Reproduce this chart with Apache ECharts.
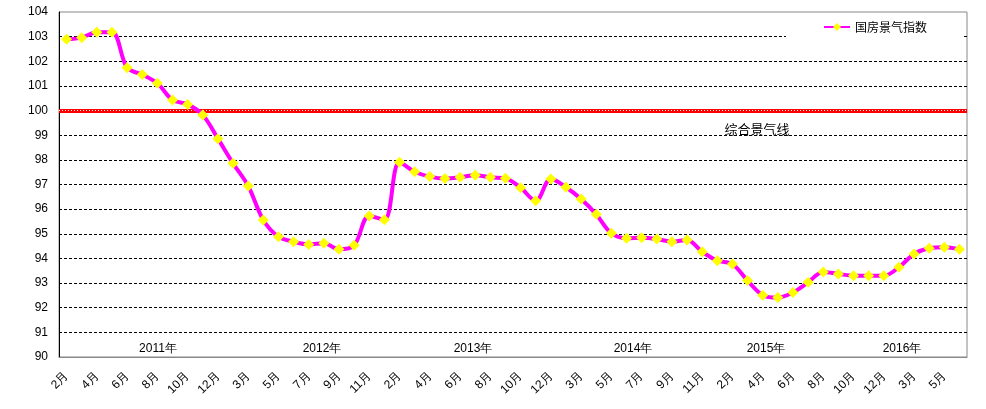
<!DOCTYPE html>
<html>
<head>
<meta charset="utf-8">
<script src="https://cdn.jsdelivr.net/npm/echarts@6/dist/echarts.min.js"></script>
<style>
html,body{margin:0;padding:0;background:#fff;}
#c{width:986px;height:409px;}
</style>
</head>
<body>
<div id="c"></div>
<script>
// Categories: monthly, Jan merged into Feb each year (2011-02 .. 2016-06)
var categories = [
  '2月','3月','4月','5月','6月','7月','8月','9月','10月','11月','12月',
  '2月','3月','4月','5月','6月','7月','8月','9月','10月','11月','12月',
  '2月','3月','4月','5月','6月','7月','8月','9月','10月','11月','12月',
  '2月','3月','4月','5月','6月','7月','8月','9月','10月','11月','12月',
  '2月','3月','4月','5月','6月','7月','8月','9月','10月','11月','12月',
  '2月','3月','4月','5月','6月'
];
var indexValues = [
  102.89,102.96,103.18,103.18,101.74,101.46,101.11,100.43,100.25,99.82,98.86,
  97.86,96.94,95.56,94.88,94.68,94.57,94.62,94.37,94.53,95.72,95.57,
  97.90,97.52,97.32,97.24,97.29,97.38,97.29,97.25,96.87,96.34,97.22,
  96.89,96.41,95.79,95.02,94.82,94.84,94.79,94.68,94.75,94.27,93.91,
  93.77,93.10,92.51,92.41,92.62,93.03,93.45,93.37,93.30,93.30,93.30,
  93.64,94.18,94.41,94.45,94.37
];
var seriesName = '国房景气指数';
var baseLineValue = 100;
var baseLineLabel = '综合景气线';
var yearLabels = ['2011年','2012年','2013年','2014年','2015年','2016年'];
var yMin = 90, yMax = 104, yInterval = 1;

var yearX = [158, 322, 473, 633, 766, 902];
var graphics = yearLabels.map(function (t, i) {
  return {
    type: 'text', x: yearX[i], y: 349, z: 10,
    style: { text: t, fill: '#000', font: '12px "Liberation Sans", Arial, sans-serif',
             textAlign: 'center', textVerticalAlign: 'middle' }
  };
});
graphics.push({
  type: 'text', x: 757, y: 129, z: 10,
  style: { text: baseLineLabel, fill: '#000', font: '13px "Noto Sans CJK SC", sans-serif',
           textAlign: 'center', textVerticalAlign: 'middle' }
});

var splitColors = [];
for (var v = yMin; v <= yMax; v += yInterval) {
  splitColors.push((v === yMin || v === yMax) ? 'rgba(0,0,0,0)' : '#000');
}

var chart = echarts.init(document.getElementById('c'), null, { renderer: 'canvas' });
chart.setOption({
  animation: false,
  backgroundColor: '#fff',
  textStyle: { fontFamily: '"Liberation Sans", Arial, sans-serif' },
  grid: { left: 59, top: 12, right: 19, bottom: 52, show: true, borderColor: '#888', borderWidth: 1, backgroundColor: 'transparent' },
  legend: {
    show: true, left: 786, top: 15,
    backgroundColor: '#fff',
    padding: [6, 35, 6, 37],
    itemWidth: 26, itemHeight: 10,
    textStyle: { fontSize: 12, color: '#000', fontFamily: '"Noto Sans CJK SC", sans-serif' },
    data: [seriesName]
  },
  xAxis: {
    type: 'category',
    data: categories,
    boundaryGap: true,
    axisLine: { show: true, lineStyle: { color: '#888', width: 1 } },
    axisTick: { show: false },
    axisLabel: { interval: 1, rotate: 45, fontSize: 12, color: '#000', margin: 17 },
    splitLine: { show: false }
  },
  yAxis: {
    type: 'value',
    min: yMin, max: yMax, interval: yInterval,
    axisLine: { show: true, lineStyle: { color: '#000', width: 1 } },
    axisTick: { show: false },
    axisLabel: { fontSize: 12, color: '#000', margin: 11 },
    splitLine: { show: true, lineStyle: { color: splitColors, type: [3, 2], width: 1 } }
  },
  graphic: graphics,
  series: [{
    name: seriesName,
    type: 'line',
    data: indexValues,
    smooth: 0.35,
    symbol: 'diamond',
    symbolSize: 11,
    showAllSymbol: true,
    lineStyle: { color: '#FF00FF', width: 4 },
    itemStyle: { color: '#FFFF00', borderWidth: 0 },
    z: 5,
    markLine: {
      silent: true,
      symbol: 'none',
      label: { show: false },
      data: [
        { yAxis: baseLineValue, lineStyle: { color: '#FF0000', width: 4, type: 'solid' } },
        { yAxis: baseLineValue, lineStyle: { color: '#FFFFFF', width: 1, type: [1, 2] } }
      ],
      z: 3
    }
  }]
});
</script>
</body>
</html>
